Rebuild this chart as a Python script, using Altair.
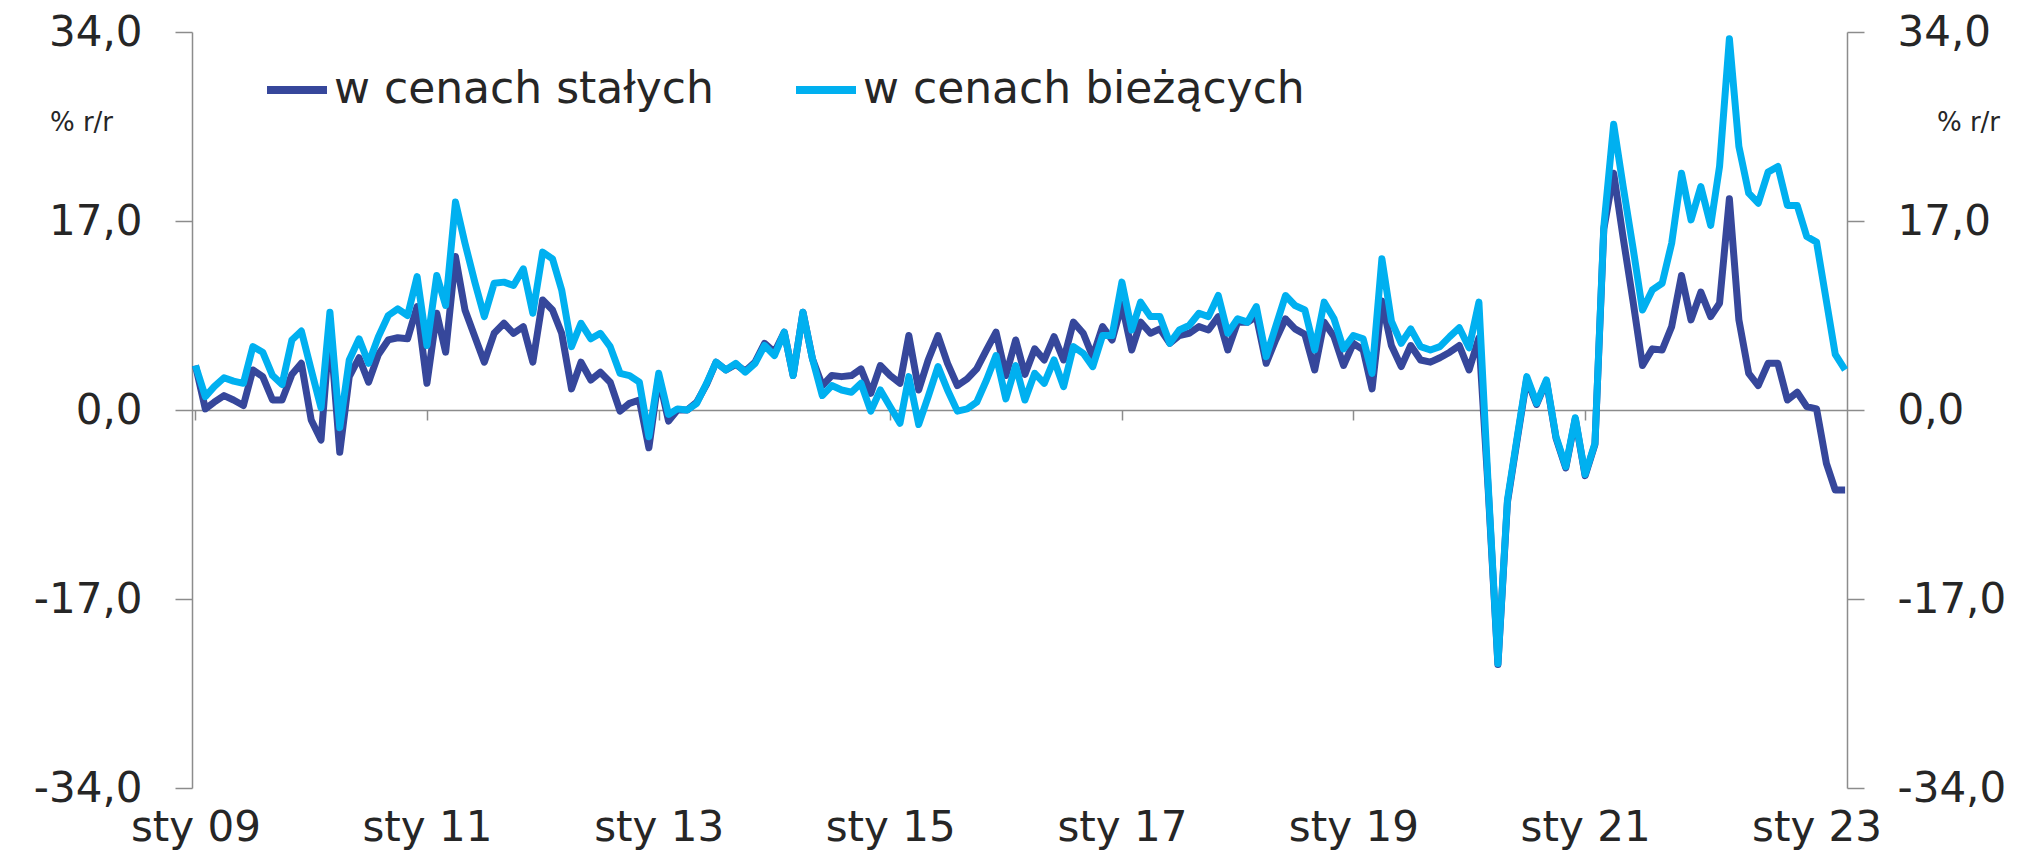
import altair as alt
import pandas as pd

# ---- data ----
months = pd.date_range("2009-01-01", periods=172, freq="MS").strftime("%Y-%m-%d").tolist()

series_names = ["w cenach stałych", "w cenach bieżących"]

stale = [
    4.0, 0.1, 0.7, 1.3, 0.9, 0.4, 3.6, 3.0, 0.9, 0.9, 3.2, 4.2,
    -0.9, -2.7, 7.5, -3.8, 3.0, 4.7, 2.5, 5.0, 6.3, 6.5, 6.4, 9.3,
    2.4, 8.7, 5.2, 13.8, 9.0, 6.6, 4.3, 6.9, 7.8, 6.9, 7.5, 4.3,
    9.9, 9.0, 6.9, 1.9, 4.3, 2.7, 3.4, 2.5, -0.1, 0.6, 0.9, -3.4,
    3.0, -1.0, 0.0, 0.0, 0.7, 2.3, 4.3, 3.6, 4.1, 3.5, 4.3, 6.0,
    5.2, 7.0, 3.1, 8.8, 4.6, 2.2, 3.1, 3.0, 3.1, 3.7, 1.5, 4.0,
    3.1, 2.4, 6.7, 1.8, 4.5, 6.7, 4.2, 2.2, 2.8, 3.7, 5.4, 7.0,
    3.1, 6.3, 3.2, 5.5, 4.5, 6.6, 4.5, 7.9, 6.9, 4.8, 7.5, 6.3,
    9.5, 5.4, 7.9, 6.9, 7.3, 6.0, 6.7, 6.9, 7.5, 7.2, 8.4, 5.4,
    7.9, 7.9, 8.4, 4.2, 6.3, 8.2, 7.3, 6.8, 3.6, 7.9, 6.6, 4.0,
    6.0, 5.4, 1.9, 9.8, 5.8, 3.9, 5.8, 4.5, 4.3, 4.7, 5.2, 5.8,
    3.6, 6.5, -7.0, -22.9, -8.3, -2.6, 2.8, 0.5, 2.6, -2.5, -5.2, -0.8,
    -5.9, -3.1, 16.3, 21.3, 15.5, 9.8, 4.0, 5.5, 5.4, 7.5, 12.1, 8.1,
    10.6, 8.4, 9.6, 19.0, 8.1, 3.3, 2.2, 4.2, 4.2, 0.9, 1.6, 0.3,
    0.1, -4.8, -7.2, -7.2,
]

biezace = [
    4.0, 1.2, 2.1, 2.9, 2.6, 2.4, 5.7, 5.2, 3.1, 2.3, 6.3, 7.1,
    3.6, 0.2, 8.8, -1.6, 4.5, 6.4, 4.2, 6.6, 8.5, 9.1, 8.5, 12.0,
    5.8, 12.1, 9.4, 18.7, 15.0, 11.5, 8.4, 11.4, 11.5, 11.2, 12.7, 8.7,
    14.2, 13.6, 10.8, 5.7, 7.8, 6.4, 6.9, 5.7, 3.3, 3.1, 2.5, -2.4,
    3.3, -0.4, 0.1, 0.0, 0.6, 2.4, 4.3, 3.6, 4.2, 3.4, 4.2, 5.8,
    4.9, 7.0, 3.1, 8.8, 4.6, 1.3, 2.2, 1.8, 1.6, 2.4, -0.1, 1.8,
    0.3, -1.2, 3.0, -1.3, 1.2, 3.9, 1.8, -0.1, 0.1, 0.7, 2.7, 4.9,
    1.0, 4.0, 0.9, 3.3, 2.4, 4.5, 2.1, 5.7, 5.1, 3.9, 6.7, 6.7,
    11.5, 7.2, 9.7, 8.4, 8.4, 6.0, 7.2, 7.6, 8.7, 8.4, 10.3, 6.9,
    8.2, 7.9, 9.3, 4.8, 7.5, 10.3, 9.4, 9.0, 5.4, 9.7, 8.2, 5.5,
    6.7, 6.4, 3.3, 13.6, 8.0, 6.0, 7.3, 5.7, 5.4, 5.7, 6.6, 7.4,
    5.6, 9.7, -6.6, -22.8, -8.1, -2.4, 3.0, 0.6, 2.7, -2.4, -5.1, -0.7,
    -5.8, -3.0, 16.5, 25.7, 20.1, 14.6, 9.0, 10.8, 11.4, 15.0, 21.3, 17.1,
    20.1, 16.6, 21.9, 33.4, 23.7, 19.5, 18.6, 21.4, 21.9, 18.4, 18.4, 15.6,
    15.1, 9.8, 5.0, 3.6,
]

tick_years = list(range(2009, 2024, 2))
y_ticks = [-34, -17, 0, 17, 34]

df = pd.DataFrame({
    "data": months * 2,
    "wartosc": stale + biezace,
    "seria": [series_names[0]] * len(stale) + [series_names[1]] * len(biezace),
})

# ---- styling ----
W, H = 1655, 756
FONT = "DejaVu Sans"
TXT = "#262626"
AXC = "#8c8c8c"
DARK = "#36479b"
LIGHT = "#00b0f0"
LW = 7

num_expr = "(datum.value < 0 ? '-' : '') + replace(format(abs(datum.value), '.1f'), '.', ',')"

x_enc = alt.X(
    "data:T",
    title=None,
    scale=alt.Scale(
        type="utc",
        domain=[alt.DateTime(year=2008, month=12, date=21, utc=True),
                alt.DateTime(year=2023, month=4, date=7, utc=True)],
    ),
    axis=alt.Axis(
        values=[alt.DateTime(year=y, month=1, date=1, utc=True) for y in tick_years],
        labelExpr="'sty ' + utcFormat(datum.value, '%y')",
        offset=-H / 2,
        domain=True, domainColor=AXC, domainWidth=1.5,
        ticks=True, tickSize=10, tickColor=AXC, tickWidth=1.5,
        labelPadding=420, labelBaseline="alphabetic",
        labelFont=FONT, labelFontSize=42, labelColor=TXT,
        labelFlush=False, labelOverlap=False, grid=False,
    ),
)

y_scale = alt.Scale(domain=[-34, 34], nice=False, zero=False)

def y_axis(orient, title_x):
    return alt.Axis(
        orient=orient, values=y_ticks, labelExpr=num_expr,
        domain=True, domainColor=AXC, domainWidth=1.5,
        ticks=True, tickSize=17, tickColor=AXC, tickWidth=1.5,
        labelPadding=33, labelFont=FONT, labelFontSize=42, labelColor=TXT,
        grid=False,
        title="% r/r", titleAngle=0, titleX=title_x, titleY=90,
        titleAlign="center", titleBaseline="middle",
        titleFont=FONT, titleFontSize=26, titleFontWeight="normal", titleColor=TXT,
    )

color_enc = alt.Color(
    "seria:N",
    scale=alt.Scale(domain=series_names, range=[DARK, LIGHT]),
    legend=alt.Legend(
        orient="none", legendX=71, legendY=24, direction="horizontal",
        title=None, symbolType="stroke", symbolSize=3600, symbolStrokeWidth=8,
        labelFont=FONT, labelFontSize=44, labelColor=TXT, labelLimit=1000,
        labelOffset=3, columnPadding=66,
    ),
)

base = alt.Chart(df)

dark_line = base.transform_filter(
    alt.datum.seria == series_names[0]
).mark_line(strokeWidth=LW, strokeJoin="round").encode(
    x=x_enc,
    y=alt.Y("wartosc:Q", scale=y_scale, axis=y_axis("left", -111)),
    color=color_enc,
)

light_line = base.transform_filter(
    alt.datum.seria == series_names[1]
).mark_line(strokeWidth=LW, strokeJoin="round").encode(
    x=x_enc,
    y=alt.Y("wartosc:Q", scale=y_scale, axis=None),
    color=color_enc,
)

right_axis = base.transform_filter(
    alt.datum.seria == series_names[0]
).mark_line(opacity=0).encode(
    x=x_enc,
    y=alt.Y("wartosc:Q", scale=y_scale, axis=y_axis("right", 121)),
)

chart = alt.layer(dark_line, light_line, right_axis).resolve_axis(
    y="independent"
).properties(
    width=W, height=H,
    autosize=alt.AutoSizeParams(type="none"),
    padding={"left": 184, "top": 24, "right": 172, "bottom": 66},
    background="white",
).configure_view(stroke=None)

chart.save("out.html", embed_options={"renderer": "svg", "actions": False})
